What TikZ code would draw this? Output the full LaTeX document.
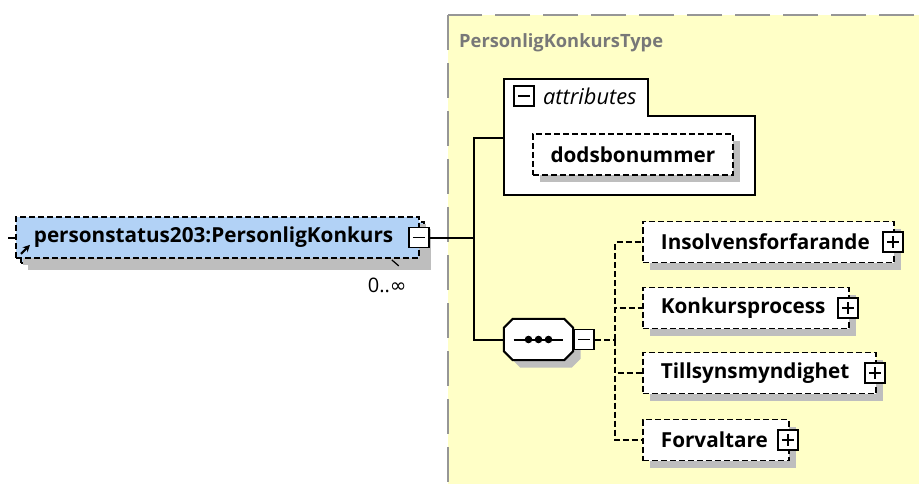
\documentclass[tikz,border=0pt]{standalone}
\usepackage{fontspec}
\setmainfont{Open Sans}
\newfontfamily\symbfont{DejaVu Sans}
\usetikzlibrary{positioning,shadows,arrows.meta}
\definecolor{typefill}{RGB}{255,255,199}
\definecolor{typeline}{RGB}{150,150,150}
\definecolor{typetext}{RGB}{120,120,120}
\definecolor{elemfill}{RGB}{178,210,246}
\definecolor{shadowgrey}{RGB}{190,190,190}
\newcommand{\seqoutline}[1]{([xshift=9pt]#1.north west) -- ([xshift=-9pt]#1.north east) -- ([yshift=-9pt]#1.north east) -- ([yshift=9pt]#1.south east) -- ([xshift=-9pt]#1.south east) -- ([xshift=9pt]#1.south west) -- ([yshift=9pt]#1.south west) -- ([yshift=-9pt]#1.north west) -- cycle}
\tikzset{
  boxshadow/.style={drop shadow={shadow xshift=7pt, shadow yshift=-7pt, fill=shadowgrey, opacity=1}},
  elembox/.style={draw, line width=1.8pt, dash pattern=on 6pt off 3pt, fill=white, minimum height=41pt, inner sep=0pt, anchor=west, font=\bfseries\fontsize{20.7}{24}\selectfont, boxshadow},
  childbox/.style={elembox, text width=#1, inner xsep=18pt, align=left},
  togglebox/.style={draw, solid, line width=1.8pt, fill=white, minimum size=20pt, inner sep=0pt},
  minusbox/.style={togglebox, path picture={\draw[line width=1.8pt] ([xshift=4pt]path picture bounding box.west) -- ([xshift=-4pt]path picture bounding box.east);}},
  plusbox/.style={togglebox, path picture={\draw[line width=1.8pt] ([xshift=4pt]path picture bounding box.west) -- ([xshift=-4pt]path picture bounding box.east) ([yshift=-4pt]path picture bounding box.north) -- ([yshift=4pt]path picture bounding box.south);}},
  seqbox/.style={minimum width=69pt, minimum height=41pt, inner sep=0pt},
  link/.style={line width=2pt},
  optlink/.style={line width=2pt, dash pattern=on 6pt off 3pt}
}

\begin{document}
\begin{tikzpicture}[x=1pt, y=-1pt]
  \useasboundingbox (0,0) rectangle (919,484);
  % complex type frame
  \draw[fill=typefill, draw=typeline, line width=2pt, dash pattern=on 35pt off 13pt] (448,15) rectangle (940,500);
  \node[anchor=west, inner sep=0pt, text=typetext, font=\bfseries\fontsize{18.3}{22}\selectfont] (typename) at (459,43) {PersonligKonkursType};

  % element
  \node[elembox, fill=elemfill, minimum width=403pt] (mainback) at (20,242.5) {};
  \node[elembox, fill=elemfill, text width=367pt, inner xsep=18pt, align=left, drop shadow={opacity=0}] (main) at (15,237.5) {personstatus203:PersonligKonkurs};
  \node[minusbox] (mainminus) at ([xshift=-1pt]main.east) {};
  \node[anchor=north east, inner sep=0pt, font=\fontsize{20}{24}\selectfont] (occurs) at ([xshift=-18pt, yshift=-14pt]mainback.south east) {0..{\symbfont ∞}};
  \draw[line width=1.2pt] ([xshift=-33pt, yshift=4pt]mainback.south east) -- ++(7,6);
  \draw[line width=2pt, -{Stealth[length=7pt, width=7pt]}] ([xshift=6pt, yshift=5pt]main.south west) -- ++(9,-9);
  \coordinate (instub) at (8,237.5);
  \coordinate (fork) at (474,237.5);

  % attributes
  \draw[link, fill=white] (504,79) -- (648,79) -- (648,116) -- (755,116) -- (755,195) -- (504,195) -- cycle;
  \coordinate (attrport) at (504,138);
  \node[minusbox] (attrminus) at (524,96) {};
  \node[right=8pt of attrminus, inner sep=0pt, font=\itshape\fontsize{21.8}{26}\selectfont] (attrlabel) {attributes};
  \node[elembox, minimum width=200pt] (dods) at (532,154.5) {dodsbonummer};

  % sequence
  \node[seqbox] (seqshade) at (546,347) {};
  \node[seqbox] (seq) at (538.5,339.5) {};
  \fill[shadowgrey] \seqoutline{seqshade};
  \draw[link, fill=white] \seqoutline{seq};
  \draw[link] ([xshift=-25pt]seq.center) -- ([xshift=24pt]seq.center);
  \foreach \dx in {-10,0,10}
    \fill ([xshift=\dx pt]seq.center) circle (3.8pt);
  \node[minusbox, right=0pt of seq] (seqminus) {};
  \coordinate[right=20pt of seqminus] (seqfork);

  \node[childbox=215pt] (ins) at (642,242) {Insolvensforfarande};
  \node[childbox=170pt] (kon) at (642,308) {Konkursprocess};
  \node[childbox=197pt] (till) at (642,373) {Tillsynsmyndighet};
  \node[childbox=110pt] (forv) at (642,440) {Forvaltare};
  \foreach \c in {ins,kon,till,forv}
    \node[plusbox] (\c plus) at ([xshift=-2pt]\c.east) {};

  % connectors
  \draw[link] (instub) -- (main.west);
  \draw[link] (mainminus.east) -- (fork);
  \draw[link] (attrport) -| (fork) |- (seq.west);
  \draw[optlink] (seqminus.east) -- (seqfork);
  \foreach \c in {ins,kon,till,forv}
    \draw[optlink] (seqfork) |- (\c.west);
\end{tikzpicture}
\end{document}
